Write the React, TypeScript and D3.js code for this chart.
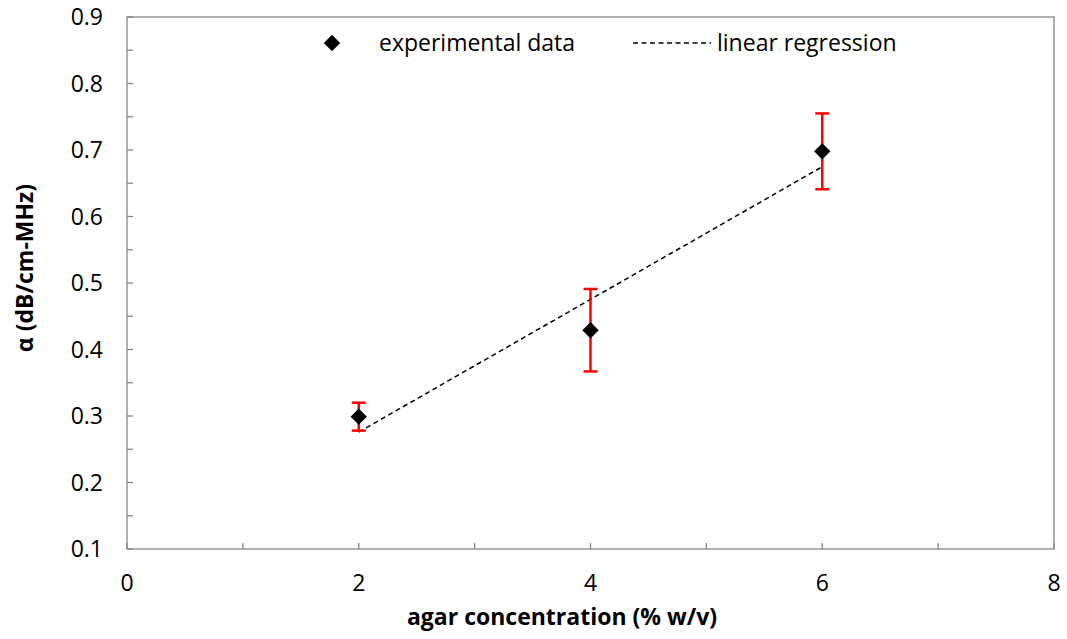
import React from "react";
import * as d3 from "d3";

const concentrations = [2, 4, 6];
const alphaValues = [0.299, 0.429, 0.698];
const alphaErrors = [0.021, 0.062, 0.057];
const xTickLabels = [0, 2, 4, 6, 8];
const yTickLabels = [0.1, 0.2, 0.3, 0.4, 0.5, 0.6, 0.7, 0.8, 0.9];
const legendLabels = ["experimental data", "linear regression"];

const W = 1067, H = 639;
const M = { left: 127, right: 1054, top: 17, bottom: 549 };
const FONT = "'Open Sans', sans-serif";

export default function App() {
  const x = d3.scaleLinear().domain([0, 8]).range([M.left, M.right]);
  const y = d3.scaleLinear().domain([0.1, 0.9]).range([M.bottom, M.top]);

  const mx = d3.mean(concentrations)!;
  const my = d3.mean(alphaValues)!;
  const slope =
    d3.sum(concentrations.map((c, i) => (c - mx) * (alphaValues[i] - my))) /
    d3.sum(concentrations.map((c) => (c - mx) ** 2));
  const intercept = my - slope * mx;
  const x0 = d3.min(concentrations)!, x1 = d3.max(concentrations)!;
  const regLine = d3.line<number>().x((d) => x(d)).y((d) => y(intercept + slope * d));

  const minorX = d3.range(0, 8.001, 1);
  const minorY = d3.range(0.1, 0.901, 0.05);
  const axisColor = "#868686";
  const diamond = d3.symbol().type(d3.symbolDiamond2).size(170)();

  return (
    <svg width={W} height={H} style={{ display: "block", position: "absolute", left: 0, top: 0 }}>
      <rect x={0} y={0} width={W} height={H} fill="#fff" />
      <rect x={M.left} y={M.top} width={M.right - M.left} height={M.bottom - M.top} fill="none" stroke={axisColor} strokeWidth={1.3} />
      {minorY.map((v, i) => (
        <line key={"yt" + i} x1={M.left} x2={M.left + 6} y1={y(v)} y2={y(v)} stroke={axisColor} strokeWidth={1.3} />
      ))}
      {minorX.map((v, i) => (
        <line key={"xt" + i} x1={x(v)} x2={x(v)} y1={M.bottom} y2={M.bottom - 6} stroke={axisColor} strokeWidth={1.3} />
      ))}
      {yTickLabels.map((v) => (
        <text key={"yl" + v} x={103} y={y(v)} dy="0.36em" textAnchor="end" fontFamily={FONT} fontSize={23} fill="#000">
          {v.toFixed(1)}
        </text>
      ))}
      {xTickLabels.map((v) => (
        <text key={"xl" + v} x={x(v)} y={591} textAnchor="middle" fontFamily={FONT} fontSize={23} fill="#000">
          {v}
        </text>
      ))}
      <text x={562} y={625} textAnchor="middle" fontFamily={FONT} fontSize={23} fontWeight="bold">
        agar concentration (% w/v)
      </text>
      <text transform={`translate(33,268) rotate(-90)`} textAnchor="middle" fontFamily={FONT} fontSize={23} fontWeight="bold">
        α (dB/cm-MHz)
      </text>
      <path d={regLine([x0, x1]) || ""} fill="none" stroke="#000" strokeWidth={1.5} strokeDasharray="5,3.5" />
      {concentrations.map((c, i) => (
        <g key={"e" + i} stroke="#ff0000" strokeWidth={2.5}>
          <line x1={x(c)} x2={x(c)} y1={y(alphaValues[i] + alphaErrors[i])} y2={y(alphaValues[i] - alphaErrors[i])} />
          <line x1={x(c) - 7} x2={x(c) + 7} y1={y(alphaValues[i] + alphaErrors[i])} y2={y(alphaValues[i] + alphaErrors[i])} />
          <line x1={x(c) - 7} x2={x(c) + 7} y1={y(alphaValues[i] - alphaErrors[i])} y2={y(alphaValues[i] - alphaErrors[i])} />
        </g>
      ))}
      {concentrations.map((c, i) => (
        <path key={"p" + i} d={diamond || ""} transform={`translate(${x(c)},${y(alphaValues[i])})`} fill="#000" />
      ))}
      <path d={diamond || ""} transform="translate(332,43)" fill="#000" />
      <text x={379} y={43} dy="0.36em" fontFamily={FONT} fontSize={23}>{legendLabels[0]}</text>
      <line x1={633} x2={711} y1={43} y2={43} stroke="#000" strokeWidth={1.5} strokeDasharray="5,3.5" />
      <text x={717} y={43} dy="0.36em" fontFamily={FONT} fontSize={23}>{legendLabels[1]}</text>
    </svg>
  );
}
